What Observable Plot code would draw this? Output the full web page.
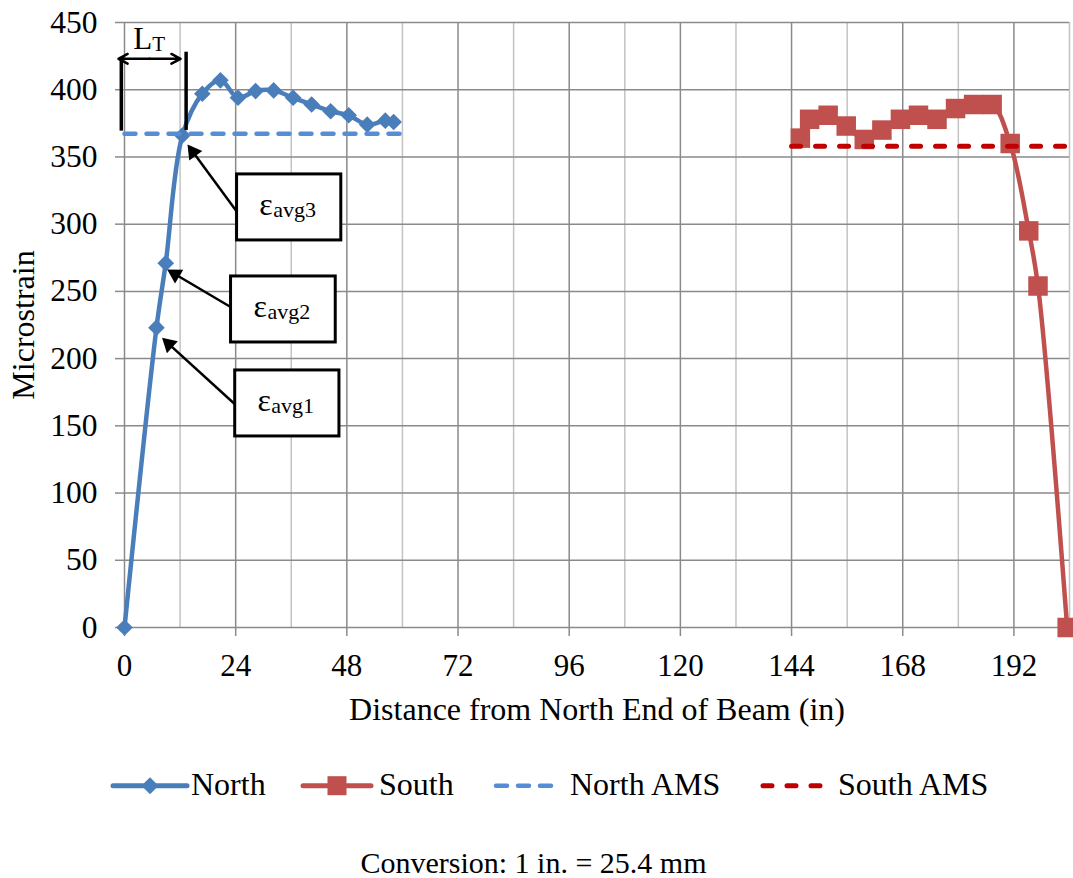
<!DOCTYPE html>
<html><head><meta charset="utf-8">
<script src="https://cdn.jsdelivr.net/npm/d3@7"></script>
<script src="https://cdn.jsdelivr.net/npm/@observablehq/plot@0.6"></script>
<style>
body{margin:0;background:#fff;font-family:"Liberation Serif","Times New Roman",serif;}
#wrap{position:relative;width:1073px;height:878px;background:#fff;}
#wrap svg.plot{position:absolute;left:0;top:0;}
.leg{position:absolute;top:763px;height:42px;line-height:42px;font-size:32px;white-space:nowrap;display:flex;align-items:flex-start;color:#000;}
.leg svg{display:block;}
.leg span{margin-left:var(--gap);}
#cap{position:absolute;top:843px;left:0;width:1067px;height:40px;line-height:40px;font-size:30px;text-align:center;color:#000;}
</style></head><body>
<div id="wrap"></div>
<script>
// ---- data ----
const northX = [0, 6.9, 8.9, 12.5, 16.8, 20.7, 24.5, 28.3, 32.2, 36.4, 40.4, 44.5, 48.4, 52.4, 56.3, 58.1];
const northY = [0, 223, 271, 366, 397, 407, 394, 399, 399.5, 394, 389, 384, 381, 374, 377, 376];
const southX = [145.9, 147.9, 151.9, 155.8, 159.7, 163.5, 167.5, 171.4, 175.4, 179.4, 183.3, 187.3, 191.2, 195.2, 197.2, 203.5];
const southY = [364, 378, 381, 373, 363, 370, 378, 381, 378, 386, 389, 389, 360, 295, 254, 0];
const northAMSX = [0, 60];
const northAMSY = [367.3, 367.3];
const southAMSX = [144, 204];
const southAMSY = [358, 358];
const xTicks = [0, 24, 48, 72, 96, 120, 144, 168, 192];
const xMinor = [12, 36, 60, 84, 108, 132, 156, 180, 204];
const yTicks = [0, 50, 100, 150, 200, 250, 300, 350, 400, 450];
const seriesNames = ["North", "South", "North AMS", "South AMS"];
const xLabel = "Distance from North End of Beam (in)";
const yLabel = "Microstrain";
const caption = "Conversion: 1 in. = 25.4 mm";
// annotation boxes (data coordinates)
const boxLabels = ["avg3", "avg2", "avg1"];
const boxX1 = [24.3, 23.0, 23.9];
const boxX2 = [46.8, 45.6, 46.4];
const boxY1 = [287.9, 212.0, 142.1];
const boxY2 = [337.0, 261.1, 191.2];
// annotation arrows: from box to point
const arrX1 = [24.3, 23.0, 23.9];
const arrY1 = [309.0, 238.2, 165.9];
const arrX2 = [13.6, 9.2, 8.1];
const arrY2 = [359.3, 266.3, 215.5];
// transfer length marker
const ltLineX = [-0.69, 13.3];
const ltLineY1 = [369.2, 369.7];
const ltLineY2 = [424.1, 427.9];
const ltArrowY = 423;
const ltArrowX = [-1.3, 12.1];
const ltLabelPos = [5.98, 430.4];

const colors = {north: "#4a7ebb", south: "#c0504d", northAMS: "#558ed5", southAMS: "#c00000"};

// ---- build tables ----
const north = northX.map((x, i) => ({x, y: northY[i]}));
const south = southX.map((x, i) => ({x, y: southY[i]}));
const nAMS = northAMSX.map((x, i) => ({x, y: northAMSY[i]}));
const sAMS = southAMSX.map((x, i) => ({x, y: southAMSY[i]}));
const boxes = boxLabels.map((l, i) => ({l, x1: boxX1[i], x2: boxX2[i], y1: boxY1[i], y2: boxY2[i],
  cx: (boxX1[i] + boxX2[i]) / 2, cy: (boxY1[i] + boxY2[i]) / 2}));

const W = 1073, H = 740, mL = 124, mR = 4, mT = 22, mB = 113;
const xDomain = [0, 204], yDomain = [0, 450];
const xs = Plot.scale({x: {domain: xDomain, range: [mL, W - mR]}});
const ys = Plot.scale({y: {domain: yDomain, range: [H - mB, mT]}});
// filled arrowheads computed via the scales
const headR = 6.0;
const headBack = 2 * Math.sqrt(Math.PI * headR * headR / (3 * Math.sqrt(3)));
const arrows = arrX1.map((x1, i) => {
  const px1 = xs.apply(x1), py1 = ys.apply(arrY1[i]);
  const px2 = xs.apply(arrX2[i]), py2 = ys.apply(arrY2[i]);
  const len = Math.hypot(px2 - px1, py2 - py1);
  const ux = (px2 - px1) / len, uy = (py2 - py1) / len;
  const hx = px2 - ux * headBack, hy = py2 - uy * headBack;
  return {x1, y1: arrY1[i], hx: xs.invert(hx), hy: ys.invert(hy),
    rot: Math.atan2(ux, -uy) * 180 / Math.PI};
});
const ltLines = ltLineX.map((x, i) => ({x, y1: ltLineY1[i], y2: ltLineY2[i]}));
const ltMid = (ltArrowX[0] + ltArrowX[1]) / 2;
const ltArrows = ltArrowX.map(x => ({x1: ltMid, x2: x, y: ltArrowY}));

const font = "Liberation Serif";
const plot = Plot.plot({
  width: W, height: H, marginLeft: mL, marginRight: mR, marginTop: mT, marginBottom: mB,
  style: {fontFamily: font, fontSize: "31px", background: "white", overflow: "visible", color: "black"},
  x: {domain: xDomain},
  y: {domain: yDomain},
  marks: [
    Plot.ruleX(xMinor, {stroke: "#c3c3c3", strokeWidth: 1.5}),
    Plot.ruleX(xTicks, {stroke: "#8a8a8a", strokeWidth: 1.5}),
    Plot.ruleY(yTicks, {stroke: "#8a8a8a", strokeWidth: 1.5}),
    Plot.axisX({ticks: xTicks, tickSize: 9, tickPadding: 17, stroke: "#8a8a8a", strokeWidth: 1.5, fill: "black", fontSize: 31, label: null, tickFormat: d => String(d)}),
    Plot.axisY({ticks: yTicks, tickSize: 9, tickPadding: 18, stroke: "#8a8a8a", strokeWidth: 1.5, fill: "black", fontSize: 31.5, label: null, tickFormat: d => String(d)}),
    Plot.text([yLabel], {text: d => d, frameAnchor: "left", dx: -91, rotate: -90, textAnchor: "middle", lineAnchor: "bottom", fontSize: 32, fill: "black"}),
    Plot.text([xLabel], {text: d => d, frameAnchor: "bottom", dy: 92, textAnchor: "middle", lineAnchor: "bottom", fontSize: 32, fill: "black"}),
    // series
    Plot.line(north, {x: "x", y: "y", curve: "catmull-rom", stroke: colors.north, strokeWidth: 4.5}),
    Plot.dot(north, {x: "x", y: "y", symbol: "diamond2", r: 7.5, fill: colors.north, stroke: "none"}),
    Plot.line(south, {x: "x", y: "y", curve: "catmull-rom", stroke: colors.south, strokeWidth: 4.5}),
    Plot.dot(south, {x: "x", y: "y", symbol: "square", r: 11, fill: colors.south, stroke: "none"}),
    Plot.line(nAMS, {x: "x", y: "y", stroke: colors.northAMS, strokeWidth: 4.5, strokeDasharray: "11,11", strokeLinecap: "round"}),
    Plot.line(sAMS, {x: "x", y: "y", stroke: colors.southAMS, strokeWidth: 5, strokeDasharray: "9,15", strokeLinecap: "round"}),
    // annotations
    Plot.rect(boxes, {x1: "x1", x2: "x2", y1: "y1", y2: "y2", fill: "white", stroke: "black", strokeWidth: 3}),
    Plot.text(boxes, {x: "cx", y: "cy", text: () => "ε", textAnchor: "end", lineAnchor: "bottom", dx: -16.5, dy: 8, fontSize: 32, fill: "black"}),
    Plot.text(boxes, {x: "cx", y: "cy", text: "l", textAnchor: "start", lineAnchor: "bottom", dx: -16, dy: 10, fontSize: 22, fill: "black"}),
    Plot.link(arrows, {x1: "x1", y1: "y1", x2: "hx", y2: "hy", stroke: "black", strokeWidth: 2.5}),
    Plot.dot(arrows, {x: "hx", y: "hy", rotate: "rot", symbol: "triangle", r: headR, fill: "black", stroke: "none"}),
    Plot.ruleX(ltLines, {x: "x", y1: "y1", y2: "y2", stroke: "black", strokeWidth: 3.5}),
    Plot.arrow(ltArrows, {x1: "x1", x2: "x2", y1: "y", y2: "y", stroke: "black", strokeWidth: 2.5, headLength: 18, headAngle: 56}),
    Plot.text([ltLabelPos], {x: d => d[0], y: d => d[1], text: () => "L", textAnchor: "end", lineAnchor: "bottom", fontSize: 31, fill: "black"}),
    Plot.text([ltLabelPos], {x: d => d[0], y: d => d[1], text: () => "T", textAnchor: "start", lineAnchor: "bottom", dy: 2.4, fontSize: 21, fill: "black"})
  ]
});
plot.classList.add("plot");
const wrap = document.getElementById("wrap");
wrap.appendChild(plot);

// ---- legend ----
const ns = "http://www.w3.org/2000/svg";
function el(name, attrs) { const e = document.createElementNS(ns, name); for (const k in attrs) e.setAttribute(k, attrs[k]); return e; }
const legendItems = [
  {name: seriesNames[0], color: colors.north, left: 110, w: 80, gap: 1, marker: "diamond"},
  {name: seriesNames[1], color: colors.south, left: 300, w: 74, gap: 5, marker: "square"},
  {name: seriesNames[2], color: colors.northAMS, left: 493, w: 69, gap: 8, dash: "11,11", sw: 4.5},
  {name: seriesNames[3], color: colors.southAMS, left: 760, w: 70, gap: 8, dash: "9,15", sw: 5}
];
for (const it of legendItems) {
  const d = document.createElement("div");
  d.className = "leg";
  d.style.left = it.left + "px";
  d.style.setProperty("--gap", it.gap + "px");
  const s = el("svg", {width: it.w, height: 42});
  const ly = 22.7;
  if (it.dash) {
    s.appendChild(el("line", {x1: 3, x2: it.w - 3, y1: ly, y2: ly, stroke: it.color, "stroke-width": it.sw, "stroke-dasharray": it.dash, "stroke-linecap": "round"}));
  } else {
    s.appendChild(el("line", {x1: 3, x2: it.w - 3, y1: ly, y2: ly, stroke: it.color, "stroke-width": 5, "stroke-linecap": "round"}));
    const c = it.w / 2;
    if (it.marker === "diamond") s.appendChild(el("path", {d: `M${c},${ly - 8.5}L${c + 8.5},${ly}L${c},${ly + 8.5}L${c - 8.5},${ly}Z`, fill: it.color}));
    else s.appendChild(el("rect", {x: c - 9.5, y: ly - 9.5, width: 19, height: 19, fill: it.color}));
  }
  d.appendChild(s);
  const t = document.createElement("span");
  t.textContent = it.name;
  d.appendChild(t);
  wrap.appendChild(d);
}
const cap = document.createElement("div");
cap.id = "cap";
cap.textContent = caption;
wrap.appendChild(cap);
</script>
</body></html>
